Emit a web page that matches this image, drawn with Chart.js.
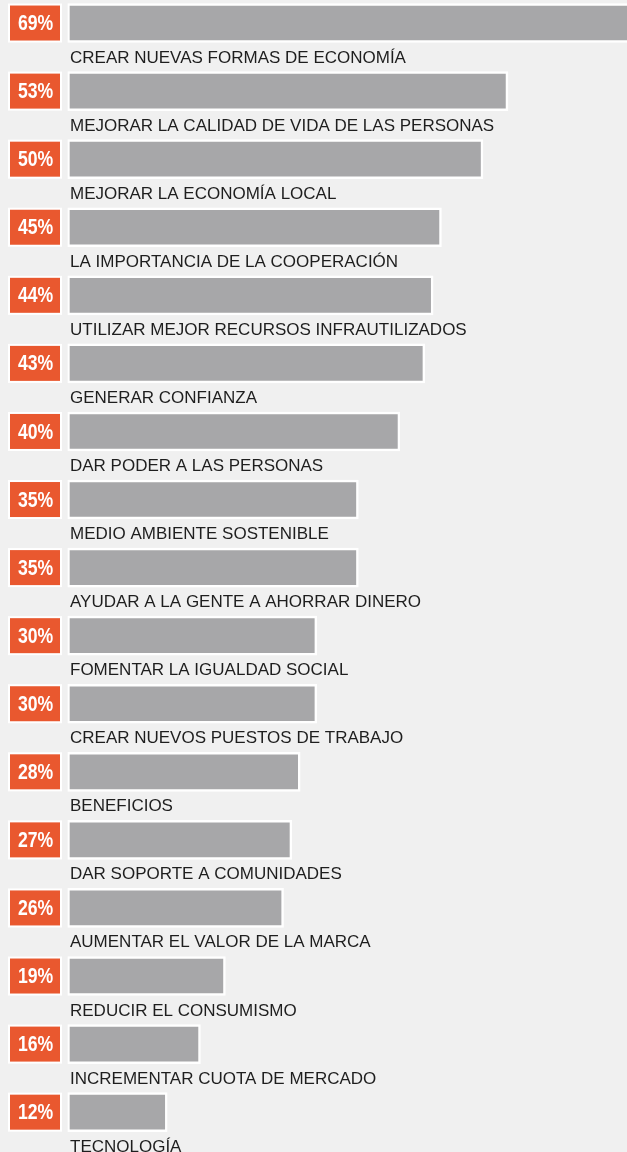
<!DOCTYPE html>
<html>
<head>
<meta charset="utf-8">
<script src="https://cdn.jsdelivr.net/npm/chart.js@4/dist/chart.umd.min.js"></script>
<style>
  html, body { margin: 0; padding: 0; background: #f0f0f0; overflow: hidden; width: 627px; height: 1152px; }
  #wrap { position: absolute; left: 0; top: -11.2px; width: 627px; height: 1180px; }
</style>
</head>
<body>
<div id="wrap"><canvas id="c" width="627" height="1180"></canvas></div>
<script>
const categories = [
  "CREAR NUEVAS FORMAS DE ECONOMÍA",
  "MEJORAR LA CALIDAD DE VIDA DE LAS PERSONAS",
  "MEJORAR LA ECONOMÍA LOCAL",
  "LA IMPORTANCIA DE LA COOPERACIÓN",
  "UTILIZAR MEJOR RECURSOS INFRAUTILIZADOS",
  "GENERAR CONFIANZA",
  "DAR PODER A LAS PERSONAS",
  "MEDIO AMBIENTE SOSTENIBLE",
  "AYUDAR A LA GENTE A AHORRAR DINERO",
  "FOMENTAR LA IGUALDAD SOCIAL",
  "CREAR NUEVOS PUESTOS DE TRABAJO",
  "BENEFICIOS",
  "DAR SOPORTE A COMUNIDADES",
  "AUMENTAR EL VALOR DE LA MARCA",
  "REDUCIR EL CONSUMISMO",
  "INCREMENTAR CUOTA DE MERCADO",
  "TECNOLOGÍA"
];
const values = [69, 53, 50, 45, 44, 43, 40, 35, 35, 30, 30, 28, 27, 26, 19, 16, 12];
const badgeLabels = values.map(v => v + "%");

const ORANGE = "#e9582f";
const GREY = "#a7a7a9";
const TEXT = "#1e1e1e";

const labelPlugin = {
  id: "badgesAndLabels",
  afterDatasetsDraw(chart) {
    const ctx = chart.ctx;
    const meta = chart.getDatasetMeta(0);
    ctx.save();
    meta.data.forEach((bar, i) => {
      const y = bar.y;
      // badge
      ctx.fillStyle = "#ffffff";
      ctx.fillRect(8, y - 19.5, 54, 39);
      ctx.fillStyle = ORANGE;
      ctx.fillRect(10, y - 17.5, 50, 35);
      ctx.save();
      ctx.translate(35.5, y + 1);
      ctx.scale(0.8, 1);
      ctx.fillStyle = "#ffffff";
      ctx.font = "bold 22px 'Liberation Sans', Arial, sans-serif";
      ctx.textAlign = "center";
      ctx.textBaseline = "middle";
      ctx.fillText(badgeLabels[i], 0, 0);
      ctx.restore();
      // category label
      ctx.fillStyle = TEXT;
      ctx.font = "17px 'Liberation Sans', Arial, sans-serif";
      ctx.textAlign = "left";
      ctx.textBaseline = "alphabetic";
      ctx.fillText(categories[i], 70, y + 39.5);
    });
    ctx.restore();
  }
};

new Chart(document.getElementById("c"), {
  type: "bar",
  data: {
    labels: categories,
    datasets: [{
      data: values,
      backgroundColor: GREY,
      borderColor: "#ffffff",
      borderWidth: 2.5,
      borderSkipped: false,
      barThickness: 39
    }]
  },
  options: {
    indexAxis: "y",
    responsive: false,
    animation: false,
    layout: { padding: { left: 67.5, right: 0, top: 0, bottom: 22.8 } },
    plugins: { legend: { display: false }, tooltip: { enabled: false } },
    scales: {
      x: { display: false, min: 0, max: 67.33, grid: { display: false } },
      y: { display: false, grid: { display: false } }
    }
  },
  plugins: [labelPlugin]
});
</script>
</body>
</html>
